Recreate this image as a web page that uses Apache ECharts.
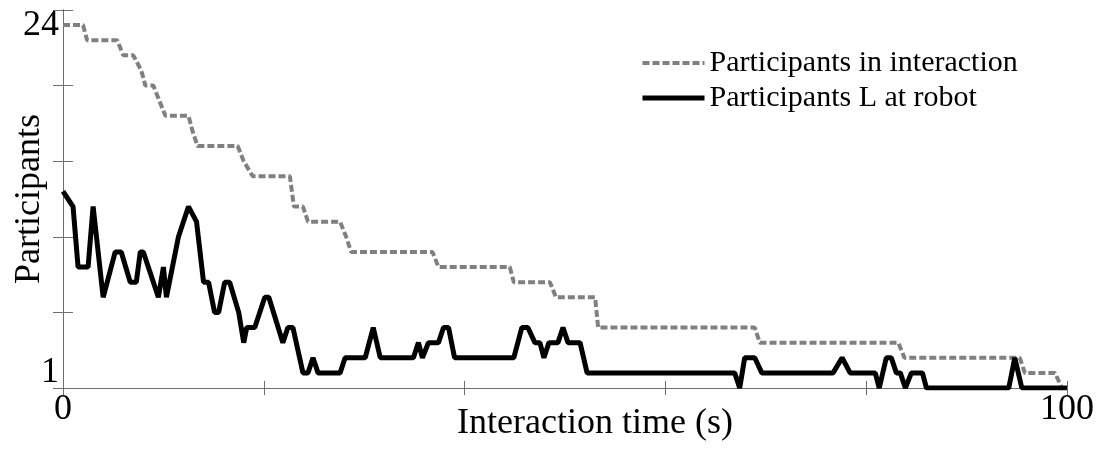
<!DOCTYPE html>
<html>
<head>
<meta charset="utf-8">
<script src="https://cdn.jsdelivr.net/npm/echarts@6/dist/echarts.min.js"></script>
<style>
html,body{margin:0;padding:0;background:#fff;}
#chart{width:1105px;height:450px;}
</style>
</head>
<body>
<div id="chart"></div>
<script>
// Participants in interaction (grey dashed)
var interactionTime = [0, 2.0, 2.4, 5.4, 6.0, 7.0, 7.8, 8.2, 9.0, 9.6, 10.2, 12.5, 12.9, 13.4, 17.4, 18.0, 18.9, 22.6, 23.0, 23.9, 24.4, 27.6, 28.2, 28.7, 36.8, 37.4, 44.5, 44.9, 48.5, 49.1, 53.0, 53.3, 68.9, 69.4, 83.2, 83.8, 95.3, 95.8, 98.8, 99.5, 99.7];
var interactionCount = [24, 24, 23, 23, 22, 22, 21, 20, 20, 19, 18, 18, 17, 16, 16, 15, 14, 14, 12, 12, 11, 11, 10, 9, 9, 8, 8, 7, 7, 6, 6, 4, 4, 3, 3, 2, 2, 1, 1, 0, 0];
// Participants L at robot (black solid)
var robotTime = [0, 1.0, 1.5, 2.5, 3.0, 4.0, 5.2, 5.8, 6.7, 7.3, 7.7, 8.0, 9.5, 10.0, 10.3, 11.5, 12.5, 13.3, 14.0, 14.5, 15.1, 15.5, 16.1, 16.6, 17.5, 18.0, 18.3, 19.1, 20.1, 20.5, 21.9, 22.4, 22.9, 23.9, 24.4, 24.9, 25.4, 27.6, 28.1, 30.1, 30.9, 31.6, 34.9, 35.4, 35.8, 36.4, 37.4, 37.9, 38.4, 39.0, 44.9, 45.7, 46.3, 47.0, 47.5, 47.9, 48.4, 49.3, 49.8, 50.3, 51.5, 52.2, 66.9, 67.4, 67.9, 68.9, 69.6, 76.7, 77.6, 78.4, 80.9, 81.3, 82.0, 82.5, 83.0, 83.4, 83.9, 84.5, 85.6, 86.0, 94.2, 94.8, 95.5, 100];
var robotCount = [13, 12, 8, 8, 12, 6, 9, 9, 7, 7, 9, 9, 6, 8, 6, 10, 12, 11, 7, 7, 5, 5, 7, 7, 5, 3, 4, 4, 6, 6, 3, 4, 4, 1, 1, 2, 1, 1, 2, 2, 4, 2, 2, 3, 2, 3, 3, 4, 4, 2, 2, 4, 4, 3, 3, 2, 3, 3, 4, 3, 3, 1, 1, 0, 2, 2, 1, 1, 2, 1, 1, 0, 2, 2, 1, 1, 0, 1, 1, 0, 0, 2, 0, 0];
var xLabelValues = [0, 100];
var yLabelValues = [1, 24];
var seriesNames = ['Participants in interaction', 'Participants L at robot'];

function zip(a, b) { return a.map(function (v, i) { return [v, b[i]]; }); }

var FONT = 'Liberation Serif';
var axisColor = '#6e6e6e';
var greyLine = { color: '#808080', width: 4, type: [7, 3] };
var blackLine = { color: '#000', width: 5, type: 'solid' };
var chart = echarts.init(document.getElementById('chart'));
chart.setOption({
  animation: false,
  backgroundColor: '#fff',
  grid: { left: 63, right: 38, top: 10, bottom: 62, containLabel: false, outerBoundsMode: 'none' },
  legend: {
    orient: 'vertical',
    left: 635,
    top: 43,
    itemWidth: 62,
    itemHeight: 14,
    itemGap: 5,
    data: [
      { name: seriesNames[0], itemStyle: { opacity: 0, color: 'transparent', borderWidth: 0 }, lineStyle: greyLine },
      { name: seriesNames[1], itemStyle: { opacity: 0, color: 'transparent', borderWidth: 0 }, lineStyle: blackLine }
    ],
    textStyle: { fontFamily: FONT, fontSize: 30, color: '#000', lineHeight: 30 }
  },
  xAxis: [{
    type: 'value', min: 0, max: 100, interval: 20, position: 'bottom',
    name: 'Interaction time (s)', nameLocation: 'middle', nameGap: 18, nameMoveOverlap: false,
    nameTextStyle: { fontFamily: FONT, fontSize: 36, color: '#000', verticalAlign: 'top', padding: [0, 0, 0, 60] },
    axisLine: { show: true, lineStyle: { color: axisColor, width: 1 } },
    axisTick: { show: true, inside: true, length: 7, lineStyle: { color: axisColor } },
    axisLabel: { customValues: xLabelValues, fontFamily: FONT, fontSize: 36, color: '#000', margin: 4 },
    splitLine: { show: false }
  }, {
    type: 'value', min: 0, max: 100, interval: 20, position: 'top',
    axisLine: { show: true, lineStyle: { color: axisColor, width: 1 } },
    axisTick: { show: true, inside: true, length: 7, lineStyle: { color: axisColor } },
    axisLabel: { show: false },
    splitLine: { show: false }
  }],
  yAxis: [{
    type: 'value', min: 0, max: 25, interval: 5, position: 'left',
    name: 'Participants', nameLocation: 'middle', nameGap: 15, nameMoveOverlap: false,
    nameTextStyle: { fontFamily: FONT, fontSize: 36, color: '#000' },
    axisLine: { show: true, lineStyle: { color: axisColor, width: 1 } },
    axisTick: { show: true, inside: true, length: 10, lineStyle: { color: axisColor } },
    axisLabel: { customValues: yLabelValues, fontFamily: FONT, fontSize: 36, color: '#000', margin: 4 },
    splitLine: { show: false }
  }, {
    type: 'value', min: 0, max: 25, interval: 5, position: 'right',
    axisLine: { show: true, lineStyle: { color: axisColor, width: 1 } },
    axisTick: { show: true, inside: true, length: 10, lineStyle: { color: axisColor } },
    axisLabel: { show: false },
    splitLine: { show: false }
  }],
  series: [{
    name: seriesNames[0], type: 'line', xAxisIndex: 0, yAxisIndex: 0,
    data: zip(interactionTime, interactionCount), symbol: 'none',
    itemStyle: { color: '#808080' },
    lineStyle: greyLine
  }, {
    name: seriesNames[1], type: 'line', xAxisIndex: 0, yAxisIndex: 0,
    data: zip(robotTime, robotCount), symbol: 'none',
    itemStyle: { color: '#000' },
    lineStyle: blackLine
  }]
});
</script>
</body>
</html>
